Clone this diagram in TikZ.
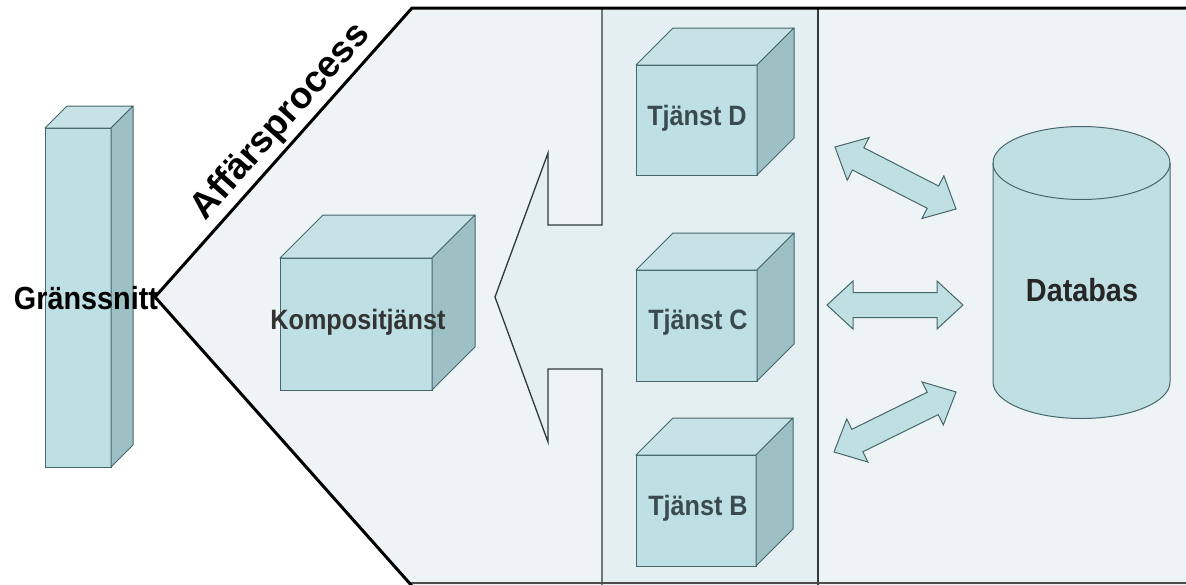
\documentclass[tikz,border=0pt]{standalone}
\usepackage{fontspec}
\setmainfont{Liberation Sans}
\newfontfamily\condfont{Liberation Sans}[FakeStretch=0.9]
\definecolor{bgA}{HTML}{EEF4F6}
\definecolor{bgM}{HTML}{E3EFF1}
\definecolor{frontc}{HTML}{BEDFE4}
\definecolor{topc}{HTML}{C7E2E6}
\definecolor{sidec}{HTML}{9DC0C4}
\definecolor{edgec}{HTML}{46676B}
\definecolor{txtc}{HTML}{3A4B4F}
\definecolor{arrowc}{HTML}{BFDFE3}
\definecolor{linec}{HTML}{2E3A3C}
\tikzset{
  face/.style={rectangle, fill=frontc, draw=edgec, line width=1pt, inner sep=0pt, outer sep=0pt},
  topface/.style={fill=topc, draw=edgec, line width=1pt, line join=round},
  sideface/.style={fill=sidec, draw=edgec, line width=1pt, line join=round},
  boxtext/.style={font=\condfont\bfseries\fontsize{28}{30}\selectfont, text=txtc},
  bigtext/.style={font=\condfont\bfseries\fontsize{32}{34}\selectfont},
  dbl/.style={fill=arrowc, draw=edgec, line width=1pt, line join=miter},
  border/.style={line width=3pt, black, line join=miter},
  divider/.style={line width=1.3pt, linec},
}
\newcommand\mycube[6]{%
  \node[face, minimum width=#4pt, minimum height=#5pt] (#1) at (#2,#3) {};
  \draw[topface] (#1.north west) -- ++(#6,-#6) -- ++(#4,0) -- (#1.north east) -- cycle;
  \draw[sideface] (#1.north east) -- ++(#6,-#6) -- ++(0,#5) -- (#1.south east) -- cycle;
}
\newcommand\dblarrow[3]{%
  \begin{scope}[shift={(#1)}, rotate=#2]
    \draw[dbl] (0,0) -- (26,24) -- (26,12.5) -- (#3-26,12.5) -- (#3-26,24) -- (#3,0)
      -- (#3-26,-24) -- (#3-26,-12.5) -- (26,-12.5) -- (26,-24) -- cycle;
  \end{scope}}
\begin{document}
\begin{tikzpicture}[x=1pt,y=-1pt]
\useasboundingbox (0,0) rectangle (1186,584);
\fill[white] (0,0) rectangle (1186,584);
\clip (0,0) rectangle (1186,584);
% main process shape
\coordinate (tip) at (155,297);
\coordinate (tl) at (412,8);
\coordinate (bl) at (412,586);
\fill[bgA] (tip) -- (tl) -- (1190,8) -- (1190,590) -- (bl) -- cycle;
% middle column with arrow
\fill[bgM] (602,8) -- (818,8) -- (818,590) -- (602,590) -- (602,369) -- (548,369)
  -- (548,442) -- (495,297) -- (548,153) -- (548,225) -- (602,225) -- cycle;
\draw[divider] (602,8) -- (602,225) -- (548,225) -- (548,153) -- (495,297)
  -- (548,442) -- (548,369) -- (602,369) -- (602,590);
\draw[divider] (818,8) -- (818,590);
\draw[line width=1.5pt, black!70] (410,583) -- (1186,583);
\draw[border] (bl) -- (tip) -- (tl) -- (1190,8);
% label on the diagonal
\node[font=\bfseries\fontsize{37}{40}\selectfont, rotate=48.35] (ap) at (281,122) {Affärsprocess};
% interface bar
\mycube{bar}{78}{297.5}{66}{339}{22}
\node[bigtext] (bart) at (86,298) {Gränssnitt};
% composite service
\mycube{komp}{356}{324}{152}{132}{43}
\node[boxtext, text=black!80] (kompt) at (358,322) {Kompositjänst};
% services
\mycube{tjd}{696.5}{120}{121}{110}{37}
\node[boxtext] (tjdt) at (697,118) {Tjänst D};
\mycube{tjc}{696.5}{325.5}{121}{111}{37}
\node[boxtext] (tjct) at (698,322) {Tjänst C};
\mycube{tjb}{696}{510.5}{120}{111}{37}
\node[boxtext] (tjbt) at (698,508) {Tjänst B};
% database
\fill[arrowc] (993,163) -- (993,382) arc[start angle=180, end angle=360, x radius=88.5pt, y radius=36.5pt]
  -- (1170,163) arc[start angle=0, end angle=180, x radius=88.5pt, y radius=36.5pt] -- cycle;
\draw[edgec, line width=1pt] (1081.5,163) ellipse [x radius=88.5pt, y radius=36.5pt];
\draw[edgec, line width=1pt] (993,163) -- (993,382) arc[start angle=180, end angle=360, x radius=88.5pt, y radius=36.5pt] -- (1170,163);
\node[bigtext, text=black!85] (db) at (1082,290) {Databas};
% double arrows
\coordinate (a1) at (835,147);
\coordinate (a2) at (827,305);
\coordinate (a3) at (834,452);
\dblarrow{a1}{-27.13}{136}
\dblarrow{a2}{0}{136}
\dblarrow{a3}{26.19}{136}
\end{tikzpicture}
\end{document}
